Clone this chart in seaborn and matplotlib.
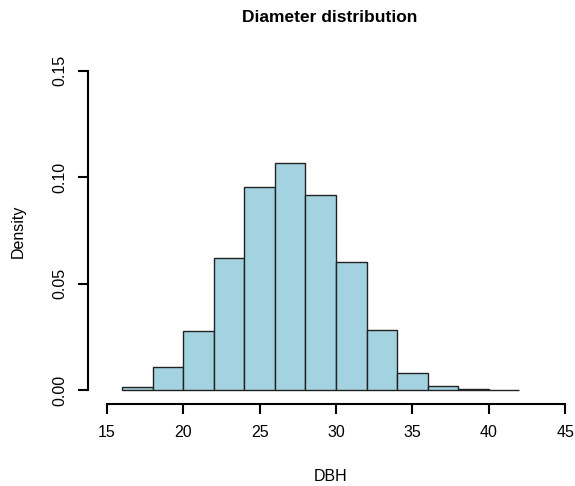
import numpy as np
import matplotlib
matplotlib.use("Agg")
import matplotlib.pyplot as plt
import seaborn as sns

# histogram bins (DBH, cm) and density
bin_edges = [16, 18, 20, 22, 24, 26, 28, 30, 32, 34, 36, 38, 40, 42]
density = [0.0016, 0.0107, 0.0277, 0.0619, 0.0954, 0.1067, 0.0917,
           0.0599, 0.0281, 0.0081, 0.0019, 0.0004, 0.0001]
x_ticks = [15, 20, 25, 30, 35, 40, 45]
y_ticks = [0.00, 0.05, 0.10, 0.15]

sns.set_style("white")
plt.rcParams['font.family'] = ['Liberation Sans', 'DejaVu Sans']
plt.rcParams['text.color'] = 'black'
plt.rcParams['axes.labelcolor'] = 'black'
plt.rcParams['xtick.color'] = 'black'
plt.rcParams['ytick.color'] = 'black'

mids = [(a + b) / 2 for a, b in zip(bin_edges[:-1], bin_edges[1:])]

fig = plt.figure(figsize=(5.75, 4.86), dpi=100)
ax = fig.add_axes([0.153, 0.1687, 0.843, 0.712])

sns.histplot(x=mids, weights=density, bins=bin_edges, stat="count",
             color="#a3d3e1", alpha=1, edgecolor="#222222", linewidth=1, ax=ax)

ax.set_xlim(13.76, 45.5)
ax.set_ylim(-0.0066, 0.156)
ax.set_xticks(x_ticks)
ax.set_yticks(y_ticks)
ax.set_xticklabels([str(t) for t in x_ticks], fontsize=11.5)
ax.set_yticklabels([f"{t:.2f}" for t in y_ticks], fontsize=11.5, rotation=90, va="center")

for s in ["top", "right"]:
    ax.spines[s].set_visible(False)
ax.spines["left"].set_bounds(0, 0.15)
ax.spines["bottom"].set_bounds(15, 45)
for s in ["left", "bottom"]:
    ax.spines[s].set_color("black")
    ax.spines[s].set_linewidth(1.5)
ax.tick_params(axis="both", direction="out", length=7, width=1.5, color="black", pad=8,
               left=True, bottom=True)

ax.set_xlabel("DBH", fontsize=11.5)
ax.set_ylabel("Density", fontsize=11.5)
ax.xaxis.set_label_coords(0.5, -0.188)
ax.yaxis.set_label_coords(-0.128, 0.5)
fig.text(0.574, 0.963, "Diameter distribution", fontsize=12.5, fontweight="bold",
         ha="center", va="center")

fig.savefig("out.png", dpi=100)
